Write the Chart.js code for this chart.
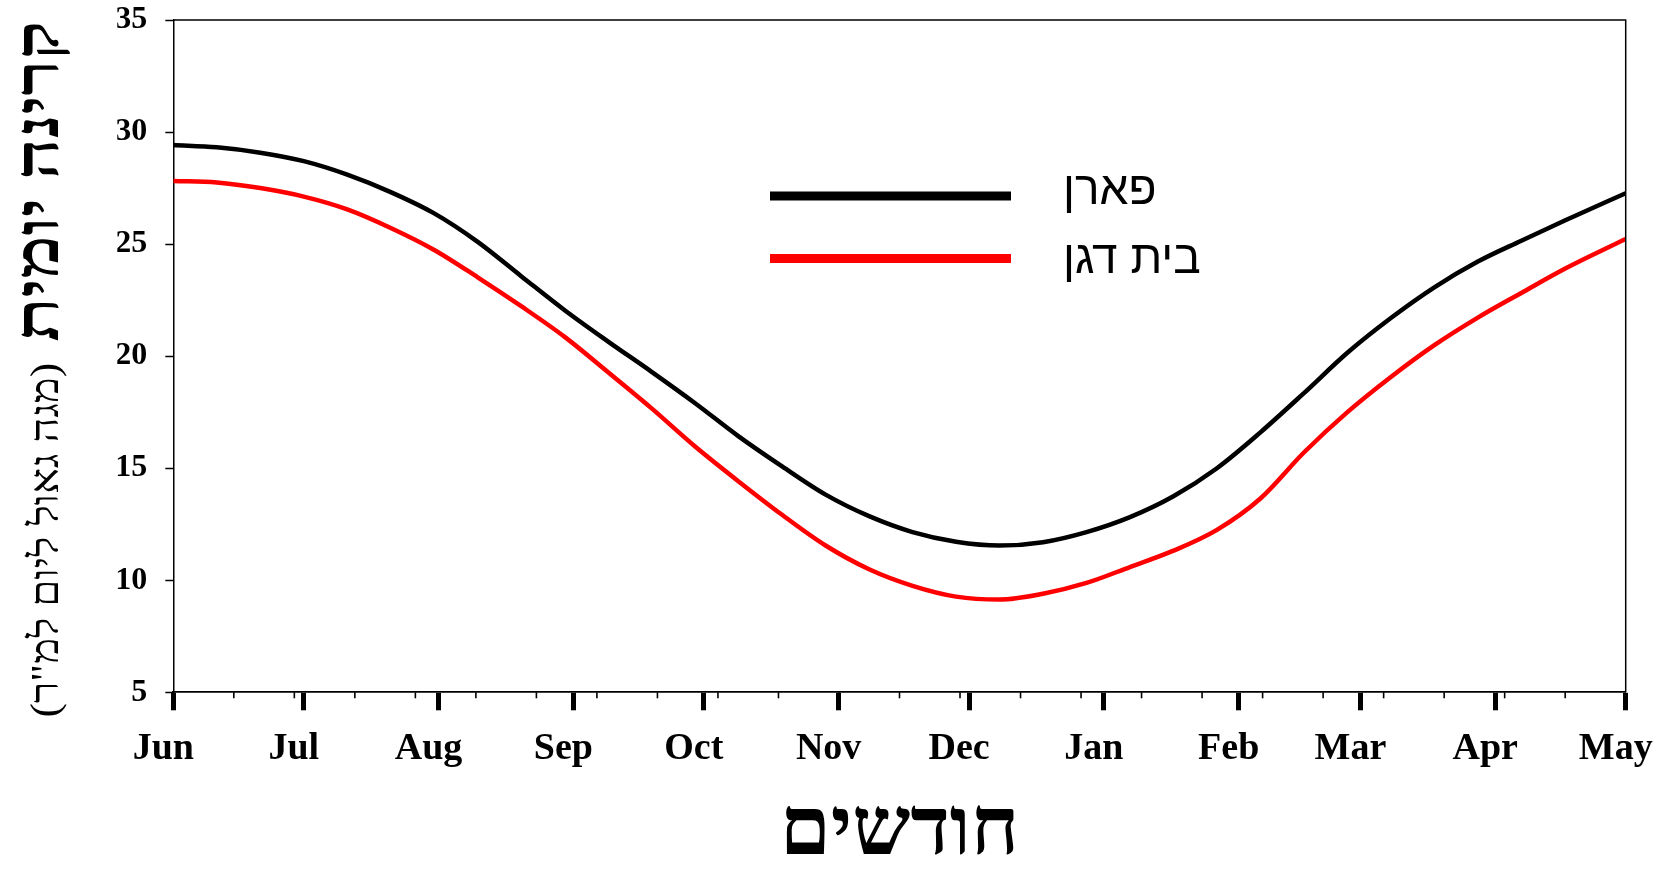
<!DOCTYPE html>
<html>
<head>
<meta charset="utf-8">
<script src="https://cdn.jsdelivr.net/npm/chart.js@4.4.0/dist/chart.umd.min.js"></script>
<style>
html,body{margin:0;padding:0;background:#fff;}
canvas{display:block;}
</style>
</head>
<body>
<canvas id="c" width="1660" height="889"></canvas>
<script>
// ---- data ----
const monthLabels = ['Jun','Jul','Aug','Sep','Oct','Nov','Dec','Jan','Feb','Mar','Apr','May'];
const monthDays = [0,30,61,92,122,153,183,214,245,273,304,334];
const yTicks = [5,10,15,20,25,30,35];
const dayPoints = [0,10,20,30,40,50,60,70,80,90,100,110,120,130,140,150,160,170,180,190,200,210,220,230,240,250,260,270,280,290,300,310,320,334];
const paranValues = [29.42,29.32,29.08,28.70,28.10,27.32,26.37,25.10,23.57,22.05,20.65,19.30,17.90,16.42,15.08,13.82,12.86,12.15,11.72,11.55,11.70,12.15,12.82,13.75,15.00,16.60,18.35,20.15,21.70,23.07,24.22,25.15,26.05,27.27];
const beitDaganValues = [27.82,27.75,27.50,27.12,26.55,25.72,24.74,23.52,22.23,20.86,19.28,17.67,15.97,14.41,12.92,11.55,10.49,9.75,9.27,9.14,9.40,9.88,10.59,11.32,12.25,13.65,15.70,17.50,19.07,20.49,21.72,22.82,23.90,25.23];
const seriesLabels = ['פארן','בית דגן'];
const xTitle = 'חודשים';
const yTitleMain = 'קרינה יומית';
const yTitleUnits = '(מגה גאול ליום למ"ר)';

const SERIF = '"Liberation Serif", "Times New Roman", serif';
const SANS = '"Liberation Sans", Arial, sans-serif';

function toPoints(xs, ys){ return xs.map((x,i)=>({x:x, y:ys[i]})); }

const xMax = monthDays[monthDays.length-1];

function drawStretched(ctx, text, rightX, stretch){
  // draws text (in rotated frame) right-aligned at rightX, stretched along the baseline
  const w = ctx.measureText(text).width * stretch;
  ctx.save();
  ctx.translate(rightX - w, 0);
  ctx.scale(stretch, 1);
  ctx.textAlign = 'left';
  ctx.fillText(text, 0, 0);
  ctx.restore();
  return w;
}

const decorPlugin = {
  id: 'decor',
  afterDraw(chart){
    const ctx = chart.ctx;
    const {left, right, top, bottom} = chart.chartArea;
    const xs = chart.scales.x;
    ctx.save();
    // frame top + right
    ctx.strokeStyle = '#000';
    ctx.lineWidth = 1.5;
    ctx.beginPath();
    ctx.moveTo(left, top); ctx.lineTo(right, top); ctx.lineTo(right, bottom);
    ctx.stroke();
    // minor ticks
    const minorCount = 24;
    ctx.lineWidth = 1.6;
    for (let k = 1; k < minorCount; k++){
      const px = xs.getPixelForValue(k * xMax / minorCount);
      ctx.beginPath(); ctx.moveTo(px, bottom); ctx.lineTo(px, bottom + 6); ctx.stroke();
    }
    // legend
    const ds = chart.data.datasets;
    ds.forEach((d, i) => {
      const ly = 196 + i * 62.5;
      ctx.strokeStyle = d.borderColor;
      ctx.lineWidth = 9;
      ctx.lineCap = 'butt';
      ctx.beginPath(); ctx.moveTo(770, ly); ctx.lineTo(1011, ly); ctx.stroke();
      ctx.fillStyle = '#000';
      ctx.font = '46px ' + SANS;
      ctx.textAlign = 'left';
      ctx.textBaseline = 'alphabetic';
      ctx.fillText(d.label, 1063, 204 + i * 68.5);
    });
    // y-axis title (two fonts)
    ctx.translate(58, 0);
    ctx.rotate(-Math.PI/2);
    ctx.fillStyle = '#000';
    ctx.textBaseline = 'alphabetic';
    ctx.direction = 'rtl';
    const t0 = 21;
    ctx.font = 'bold 62px ' + SERIF;
    const w1 = drawStretched(ctx, yTitleMain, -t0, 1.17);
    ctx.font = '40px ' + SERIF;
    drawStretched(ctx, yTitleUnits, -(t0 + w1 + 21), 1.09);
    ctx.restore();
  }
};

new Chart(document.getElementById('c'), {
  type: 'line',
  data: {
    datasets: [
      { label: seriesLabels[0], data: toPoints(dayPoints, paranValues), borderColor: '#000000', borderWidth: 4.5, pointRadius: 0, cubicInterpolationMode: 'monotone', fill: false },
      { label: seriesLabels[1], data: toPoints(dayPoints, beitDaganValues), borderColor: '#ff0000', borderWidth: 4.5, pointRadius: 0, cubicInterpolationMode: 'monotone', fill: false }
    ]
  },
  options: {
    responsive: false,
    animation: false,
    layout: { padding: { left: 117.3, right: 34.3, top: 20, bottom: 0 } },
    plugins: { legend: { display: false }, tooltip: { enabled: false } },
    scales: {
      x: {
        type: 'linear',
        min: 0, max: xMax,
        afterBuildTicks: (s) => { s.ticks = monthDays.map(v => ({value: v})); },
        afterFit: (s) => { s.height = 196.7; s.paddingLeft = 0; s.paddingRight = 0; },
        ticks: {
          autoSkip: false, maxRotation: 0, minRotation: 0,
          padding: 16.5,
          labelOffset: -10,
          color: '#000',
          font: { family: SERIF, size: 38, weight: 'bold' },
          callback: (v, i) => monthLabels[i]
        },
        grid: { drawOnChartArea: false, drawTicks: true, tickLength: 18, tickWidth: 5, tickColor: '#000' },
        border: { display: true, color: '#000', width: 1.8 },
        title: { display: true, text: xTitle, color: '#000', font: { family: SERIF, size: 82, weight: 'bold' }, padding: { top: 0, bottom: 7 } }
      },
      y: {
        min: 5, max: 35,
        afterBuildTicks: (s) => { s.ticks = yTicks.map(v => ({value: v})); },
        afterFit: (s) => { s.width = 56; s.paddingTop = 0; s.paddingBottom = 0; },
        ticks: {
          padding: 18,
          color: '#000',
          font: { family: SERIF, size: 32, weight: 'bold' }
        },
        grid: { drawOnChartArea: false, drawTicks: true, tickLength: 8, tickWidth: 1.5, tickColor: '#000' },
        border: { display: true, color: '#000', width: 1.5 }
      }
    }
  },
  plugins: [decorPlugin]
});
</script>
</body>
</html>
